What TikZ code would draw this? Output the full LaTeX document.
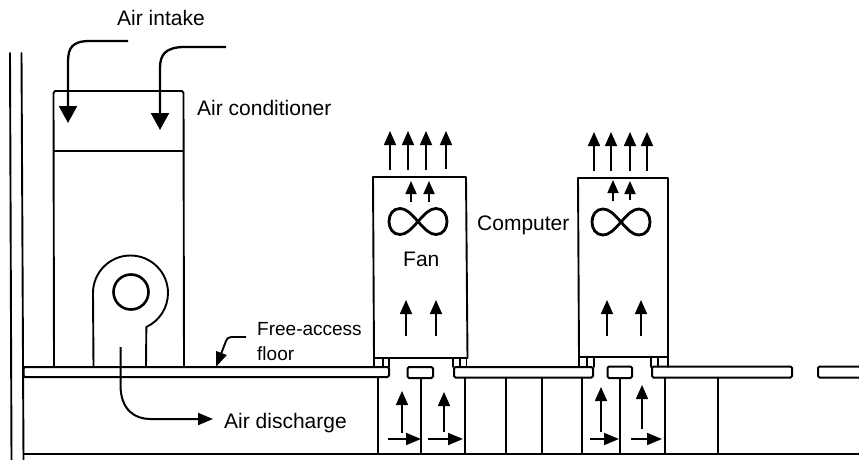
\documentclass[tikz,border=0pt]{standalone}
\usepackage{fontspec}
\setmainfont{Liberation Sans}
\usetikzlibrary{arrows.meta}
\tikzset{
  ln/.style={line width=1.9pt,line join=round,line cap=round},
  floorslab/.style={line width=2pt,rounded corners=1.5pt,fill=white},
  bigarrow/.style={line width=2.3pt,-{Triangle[length=17pt,width=18pt]}},
  medarrow/.style={line width=1.6pt,-{Triangle[length=14pt,width=12pt]}},
  smallarrow/.style={line width=1.8pt,-{Triangle[length=13pt,width=11pt]}},
  flatarrow/.style={line width=1.7pt,-{Triangle[length=15pt,width=12pt]}},
  lab/.style={font=\fontsize{21}{24}\selectfont,inner sep=0pt,anchor=base west},
  smalllab/.style={font=\fontsize{19}{22}\selectfont,inner sep=0pt,anchor=base west},
}
\begin{document}
\begin{tikzpicture}[x=1pt,y=-1pt]
\useasboundingbox (0,0) rectangle (859,460);
% wall
\draw[ln] (10,53) -- (11.5,460);
\draw[ln] (21.5,53) -- (23.5,460);
% air conditioner
\draw[ln] (54,367) -- (53.5,93) -- (55,91) -- (182,91) -- (183.5,93) -- (184,367);
\draw[ln] (54.5,151) -- (182.5,151);
% blower
\draw[ln] (93.5,367) -- (93,293) arc[start angle=180,end angle=425,radius=37.5] -- (146,367);
\draw[line width=2.6pt] (131,292) circle[radius=17.5];
% floor slabs
\draw[floorslab] (389,367) -- (23.5,367) -- (23.5,377) -- (389,377) -- cycle;
\draw[floorslab] (407.5,367) rectangle (433,378);
\draw[floorslab] (454,367) rectangle (593,377.5);
\draw[floorslab] (607.5,366.5) rectangle (632,378);
\draw[floorslab] (652,366.5) rectangle (792,377.5);
\draw[floorslab] (872,366.5) -- (818,366.5) -- (818,377.5) -- (872,377.5);
% base line and pillars
\draw[line width=2.3pt] (24,454) -- (859,454);
\foreach \x in {378,421,465,506,542,582,620,665,718}
  \draw[line width=2.1pt] (\x,377) -- (\x,454);
% computers
\draw[ln] (374,358) -- (373,177) -- (466,177) -- (467.5,358) -- cycle;
\draw[ln] (579,357) -- (578,178) -- (668,178) -- (668,357) -- cycle;
% feet
\draw[ln] (374,358) -- (374,367) (383,358) -- (383,367) (389,358) -- (389,367)
  (453,358) -- (453,367) (460,358) -- (460,367) (466.5,358) -- (466.5,367);
\draw[ln] (579,357) -- (579,367) (587,357) -- (587,367) (594,357) -- (594,367)
  (651,357) -- (651,367) (658,357) -- (658,367) (668,357) -- (668,367);
% fans
\foreach \cx/\cy in {418/221.5,621/222} {
  \begin{scope}[shift={(\cx,\cy)}]
  \draw[line width=2.8pt] (0,0) .. controls (7,-8) and (12,-13) .. (18,-13)
    .. controls (25,-13) and (29,-7) .. (29,0)
    .. controls (29,7) and (25,13) .. (18,13)
    .. controls (12,13) and (7,8) .. (0,0)
    .. controls (-7,-8) and (-12,-13) .. (-18,-13)
    .. controls (-25,-13) and (-29,-7) .. (-29,0)
    .. controls (-29,7) and (-25,13) .. (-18,13)
    .. controls (-12,13) and (-7,8) .. (0,0) -- cycle;
  \end{scope}
}
% arrows: intake
\draw[bigarrow] (128,41) -- (90,41) .. controls (72,41) and (68,48) .. (68,62) -- (68,123);
\draw[bigarrow] (226,47) -- (185,47) .. controls (165,47) and (160,55) .. (160,68) -- (160,130);
% discharge
\draw[flatarrow,line width=2pt] (120.5,347) -- (120.5,385) .. controls (120.5,410) and (135,419) .. (150,419) -- (213,419);
% floor label arrow
\draw[line width=1.9pt,-{Triangle[length=15pt,width=11pt]}] (246,337) -- (231,337) .. controls (228,337) and (227,339) .. (226,341) -- (216,367);
% outlet arrows
\foreach \x/\a/\b in {390/170/131,408/170/131,426/170/131,446/169/131,594/171/132,611/171/132,630/171/132,647/171/132}
  \draw[medarrow] (\x,\a) -- (\x,\b);
\foreach \x/\a/\b in {411/202/181,429/202/181,613/201/180,630/200/181}
  \draw[smallarrow] (\x,\a) -- (\x,\b);
\foreach \x in {406,436,607,641}
  \draw[medarrow] (\x,336) -- (\x,300);
% underfloor arrows
\draw[medarrow] (402,433) -- (402,391);
\draw[medarrow] (444,432) -- (444,392);
\draw[medarrow] (601,432) -- (601,387);
\draw[medarrow] (642,429) -- (642,385);
\draw[flatarrow] (388,439) -- (421,439);
\draw[flatarrow] (428,439) -- (463,439);
\draw[flatarrow] (590,439) -- (619,439);
\draw[flatarrow] (631,439) -- (662,439);
% labels
\node[lab] (intake) at (117,26) {Air intake};
\node[lab] (cond) at (197,115) {Air conditioner};
\node[smalllab] (free) at (257,335) {Free-access};
\node[smalllab] (floorlab) at (257,360) {floor};
\node[lab] (disch) at (224,428) {Air discharge};
\node[lab] (comp) at (477,230) {Computer};
\node[lab] (fan) at (403,266) {Fan};
\end{tikzpicture}
\end{document}
